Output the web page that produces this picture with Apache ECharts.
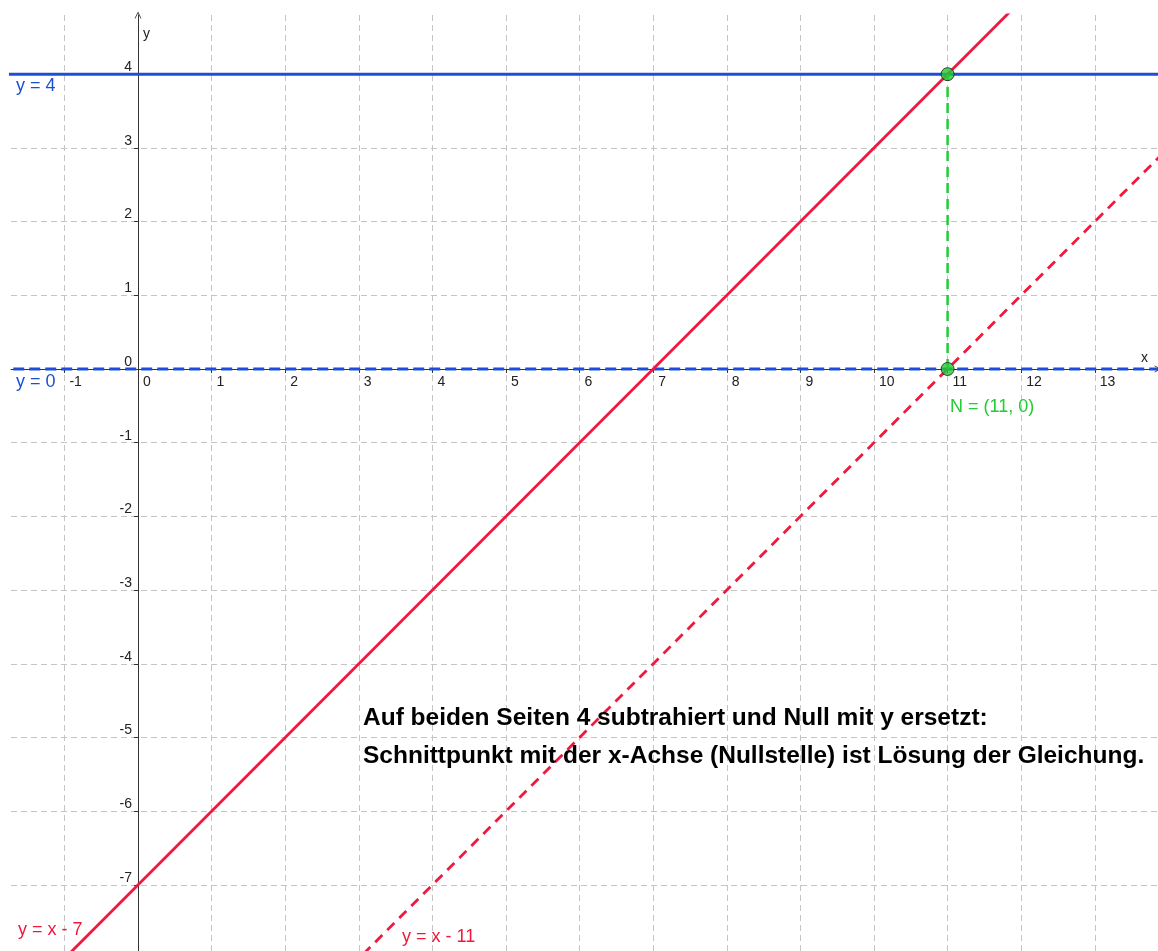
<!DOCTYPE html>
<html>
<head>
<meta charset="utf-8">
<script src="https://cdn.jsdelivr.net/npm/echarts@6/dist/echarts.min.js"></script>
<style>
html,body{margin:0;padding:0;background:#fff;}
#chart{width:1158px;height:951px;}
</style>
</head>
<body>
<div id="chart"></div>
<script>
// ---- axis ranges (visible window) ----
const xRange = [-1.726, 13.859];
const yRange = [-7.897, 4.803];

// ---- lines given by two end points (clipped by the plot area) ----
const lineY4 = [[-3, 4], [15, 4]];          // y = 4
const lineY0 = [[-3, 0], [15, 0]];          // y = 0
const lineXm7 = [[-2, -9], [13, 6]];        // y = x - 7
const lineXm11 = [[-2, -13], [15, 4]];      // y = x - 11
const dropLine = [[11, 0], [11, 4]];        // vertical from N to intersection
const points = [[11, 4], [11, 0]];          // intersection points

// ---- texts ----
const labelTexts = {
  y4: 'y = 4',
  y0: 'y = 0',
  xm7: 'y = x - 7',
  xm11: 'y = x - 11',
  N: 'N = (11, 0)'
};
const noteLines = [
  'Auf beiden Seiten 4 subtrahiert und Null mit y ersetzt:',
  'Schnittpunkt mit der x-Achse (Nullstelle) ist Lösung der Gleichung.'
];

const BLUE = '#1c4fd6';
const RED = '#f2183d';
const GREEN = '#22cc33';
const AXIS = '#333333';
const GRID = '#c4c4c4';
const FONT = '"Liberation Sans", Arial, sans-serif';

const W = 1158, H = 951;
const G = {left: 11, right: 0, top: 15, bottom: 0};
const gridW = W - G.left - G.right;
const gridH = H - G.top - G.bottom;

const chart = echarts.init(document.getElementById('chart'));

const arrowPath = 'path://M0,10 L5,0 L10,10 L8.8,10 L5,2.6 L1.2,10 Z';

function axisCommon() {
  return {
    type: 'value',
    minInterval: 1,
    maxInterval: 1,
    axisLine: {
      onZero: false,
      lineStyle: {color: AXIS, width: 1},
      symbol: ['none', arrowPath],
      symbolSize: [10, 7]
    },
    axisTick: {show: true, length: 4, lineStyle: {color: AXIS}},
    splitLine: {
      show: true,
      showMinLine: false,
      showMaxLine: false,
      lineStyle: {color: GRID, type: [6, 4], width: 1}
    },
    axisLabel: {
      showMinLabel: false,
      showMaxLabel: false,
      color: '#222',
      fontFamily: FONT,
      fontSize: 14
    }
  };
}

const xAxis = axisCommon();
xAxis.position = 'bottom';
xAxis.min = xRange[0];
xAxis.max = xRange[1];
xAxis.splitNumber = 16;
// place the axis on y = 0
xAxis.offset = -((0 - yRange[0]) / (yRange[1] - yRange[0]) * gridH);
xAxis.axisLabel.align = 'left';
xAxis.axisLabel.padding = [0, 0, 0, 5];
xAxis.axisLabel.margin = 6;

const yAxis = axisCommon();
yAxis.position = 'left';
yAxis.min = yRange[0];
yAxis.max = yRange[1];
yAxis.splitNumber = 13;
// place the axis on x = 0
yAxis.offset = -((0 - xRange[0]) / (xRange[1] - xRange[0]) * gridW);
yAxis.axisLabel.verticalAlign = 'bottom';
yAxis.axisLabel.margin = 6;

function lineSeries(data, color, width, dash, z) {
  return {
    type: 'line',
    data: data,
    showSymbol: false,
    symbol: 'none',
    clip: true,
    silent: true,
    z: z,
    lineStyle: {color: color, width: width, type: dash || 'solid', cap: 'butt'}
  };
}

const textStyle = (color, size, weight) => ({
  fill: color,
  font: (weight || 'normal') + ' ' + size + 'px ' + FONT
});

chart.setOption({
  animation: false,
  backgroundColor: '#ffffff',
  grid: Object.assign({containLabel: false, outerBoundsMode: 'none'}, G),
  xAxis: xAxis,
  yAxis: yAxis,
  series: [
    lineSeries(lineY4, BLUE, 3, 'solid', 3),
    lineSeries(lineY0, BLUE, 3, [11, 5], 3),
    lineSeries(lineXm7, RED, 2.8, 'solid', 4),
    lineSeries(lineXm11, RED, 2.8, [10, 7], 4),
    lineSeries(dropLine, GREEN, 2.5, [10, 6], 5),
    {
      type: 'scatter',
      data: points,
      symbolSize: 13,
      z: 6,
      itemStyle: {color: GREEN, borderColor: '#1a1a1a', borderWidth: 1}
    }
  ],
  graphic: [
    {type: 'text', left: 16, top: 77, z: 10, style: Object.assign({text: labelTexts.y4}, textStyle(BLUE, 18))},
    {type: 'text', left: 16, top: 373, z: 10, style: Object.assign({text: labelTexts.y0}, textStyle(BLUE, 18))},
    {type: 'text', left: 18, top: 921, z: 10, style: Object.assign({text: labelTexts.xm7}, textStyle(RED, 18))},
    {type: 'text', left: 402, top: 928, z: 10, style: Object.assign({text: labelTexts.xm11}, textStyle(RED, 18))},
    {type: 'text', left: 950, top: 398, z: 10, style: Object.assign({text: labelTexts.N}, textStyle(GREEN, 18))},
    {type: 'text', left: 1141, top: 351, z: 10, style: Object.assign({text: 'x'}, textStyle('#222', 14))},
    {type: 'text', left: 143, top: 27, z: 10, style: Object.assign({text: 'y'}, textStyle('#222', 14))},
    {type: 'text', x: 363, y: 707, scaleX: 1.065, z: 10, style: Object.assign({text: noteLines[0]}, textStyle('#000', 23, 'bold'))},
    {type: 'text', x: 363, y: 745, scaleX: 1.065, z: 10, style: Object.assign({text: noteLines[1]}, textStyle('#000', 23, 'bold'))}
  ]
});
</script>
</body>
</html>
